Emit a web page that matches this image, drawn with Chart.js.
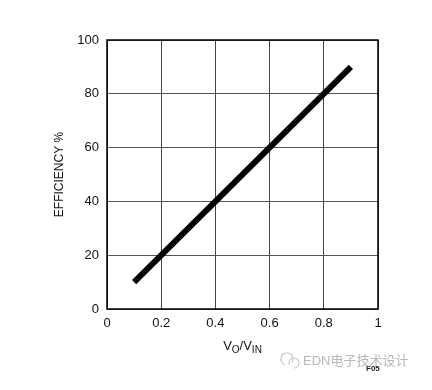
<!DOCTYPE html>
<html>
<head>
<meta charset="utf-8">
<script src="https://cdn.jsdelivr.net/npm/chart.js@4.4.0/dist/chart.umd.min.js"></script>
<style>
html,body{margin:0;padding:0;background:#fff;}
#wrap{width:432px;height:390px;position:relative;}
</style>
</head>
<body>
<div id="wrap"><canvas id="c" width="432" height="390"></canvas></div>
<script>
const xValues = [0.1, 0.9];
const efficiency = [10, 90];
const xTicks = [0, 0.2, 0.4, 0.6, 0.8, 1];
const yTicks = [0, 20, 40, 60, 80, 100];
const yTitle = "EFFICIENCY %";
const watermark = "EDN电子技术设计";
const figLabel = "F05";

const FONT = "'Liberation Sans', Arial, sans-serif";

const extras = {
  id: 'extras',
  afterDraw(chart) {
    const ctx = chart.ctx;
    const a = chart.chartArea;
    ctx.save();
    // border
    ctx.strokeStyle = '#000';
    ctx.lineWidth = 1.5;
    ctx.strokeRect(a.left, a.top, a.right - a.left, a.bottom - a.top);
    // y title
    ctx.fillStyle = '#111';
    ctx.font = '12px ' + FONT;
    ctx.textAlign = 'center';
    ctx.textBaseline = 'middle';
    ctx.translate(60, (a.top + a.bottom) / 2);
    ctx.rotate(-Math.PI / 2);
    ctx.fillText(yTitle, 0, 0);
    ctx.setTransform(1, 0, 0, 1, 0, 0);
    // x title with subscripts
    const parts = [['V', false], ['O', true], ['/V', false], ['IN', true]];
    let total = 0;
    parts.forEach(p => { ctx.font = (p[1] ? '10px ' : '13px ') + FONT; total += ctx.measureText(p[0]).width; });
    let x = (a.left + a.right) / 2 - total / 2;
    const base = 350;
    ctx.textAlign = 'left';
    ctx.textBaseline = 'alphabetic';
    parts.forEach(p => {
      ctx.font = (p[1] ? '10px ' : '13px ') + FONT;
      ctx.fillText(p[0], x, p[1] ? base + 3 : base);
      x += ctx.measureText(p[0]).width;
    });
    // watermark icon
    ctx.strokeStyle = '#c8c8c8';
    ctx.lineWidth = 1.2;
    ctx.beginPath(); ctx.arc(287, 359, 6, Math.PI * 0.6, Math.PI * 2.2); ctx.stroke();
    ctx.beginPath(); ctx.arc(294, 363, 5, Math.PI * 0.9, Math.PI * 2.5); ctx.stroke();
    // watermark text
    ctx.fillStyle = '#b8b8b8';
    ctx.font = '13px ' + FONT + ", 'Noto Sans CJK SC'";
    ctx.textBaseline = 'middle';
    ctx.fillText(watermark, 303, 361);
    // fig label
    ctx.fillStyle = '#222';
    ctx.font = 'bold 8px ' + FONT;
    ctx.fillText(figLabel, 366, 369);
    ctx.restore();
  }
};

new Chart(document.getElementById('c'), {
  type: 'scatter',
  data: {
    datasets: [{
      data: xValues.map((v, i) => ({x: v, y: efficiency[i]})),
      showLine: true,
      borderColor: '#000',
      borderWidth: 6,
      pointRadius: 0,
      borderCapStyle: 'butt',
      fill: false
    }]
  },
  options: {
    responsive: false,
    animation: false,
    devicePixelRatio: 1,
    layout: {padding: {left: 0, top: 40, right: 54, bottom: 0}},
    plugins: {legend: {display: false}, tooltip: {enabled: false}},
    scales: {
      x: {
        type: 'linear', min: 0, max: 1,
        afterBuildTicks: s => { s.ticks = xTicks.map(v => ({value: v})); },
        afterFit: s => { s.height = 81; },
        grid: {color: '#444', lineWidth: 1, drawTicks: false},
        border: {display: false},
        ticks: {color: '#111', padding: 7, font: {family: FONT, size: 13}, maxRotation: 0,
          callback: v => String(v)}
      },
      y: {
        type: 'linear', min: 0, max: 100,
        afterBuildTicks: s => { s.ticks = yTicks.map(v => ({value: v})); },
        afterFit: s => { s.width = 107; },
        grid: {color: '#555', lineWidth: 1, drawTicks: false},
        border: {display: false},
        ticks: {color: '#111', padding: 8, font: {family: FONT, size: 13}}
      }
    }
  },
  plugins: [extras]
});
</script>
</body>
</html>
